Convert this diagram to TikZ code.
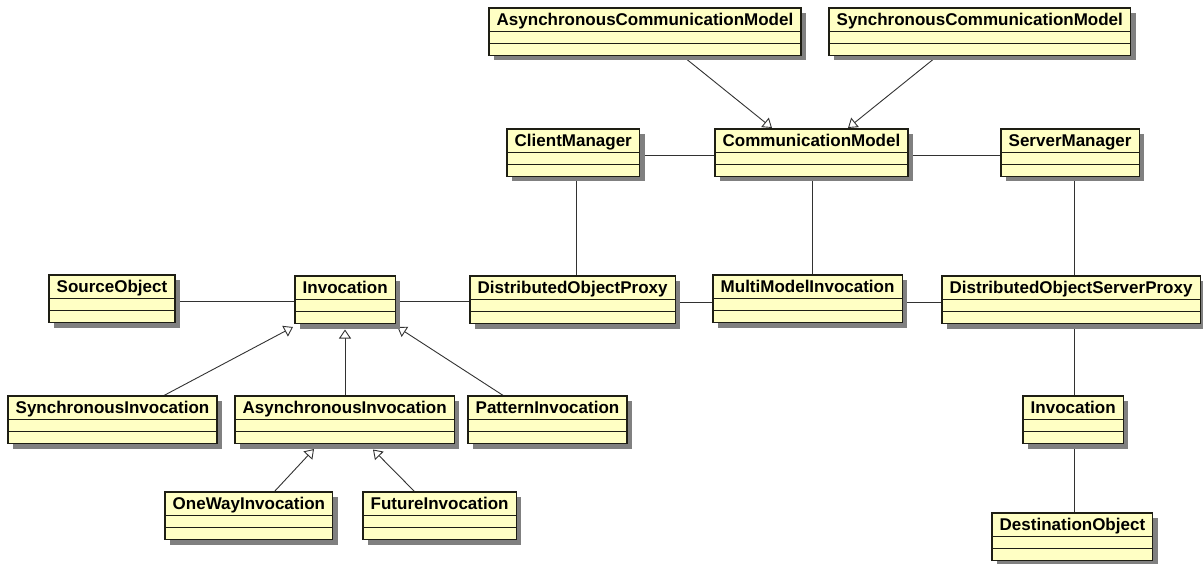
\documentclass[tikz,border=0pt]{standalone}
\usepackage{fontspec}
\setmainfont{Liberation Sans}
\usetikzlibrary{arrows.meta,shadows,calc,fit}
\pgfdeclarelayer{bg}
\pgfdeclarelayer{boxl}
\pgfsetlayers{bg,boxl,main}
\definecolor{clsfill}{RGB}{255,255,196}
\definecolor{clsborder}{RGB}{30,30,20}
\definecolor{shadowc}{RGB}{128,128,128}
\definecolor{linec}{RGB}{50,50,50}
\newcommand\clsfont{\fontsize{17}{20}\selectfont\bfseries}
\tikzset{
  clsbox/.style={draw=clsborder, line width=1.2pt, fill=clsfill, inner sep=0pt, outer sep=0pt,
    drop shadow={shadow xshift=5pt, shadow yshift=-5pt, fill=shadowc, opacity=1}},
  clstext/.style={inner sep=0pt, font=\clsfont, text=black},
  cline/.style={draw=clsborder, line width=1.2pt},
  assoc/.style={draw=linec, line width=1pt},
  gen/.style={draw=linec, line width=0.9pt, -{Triangle[length=9pt, width=12pt, fill=white]}},
}
\newcommand\umlcls[4]{%
  \coordinate (#1-nw) at (#2,#3);
  \node[clstext, anchor=base west] (#1-t) at ($(#1-nw)+(7.5,17.7)$) {#4};
  \coordinate (#1-se) at ($(#1-t.base east)+(7.5,29.8)$);
  \begin{pgfonlayer}{boxl}
  \node[clsbox, fit=(#1-nw)(#1-se)] (#1) {};
  \end{pgfonlayer}
  \draw[cline] ([yshift=-23.5pt]#1.north west) -- ([yshift=-23.5pt]#1.north east);
  \draw[cline] ([yshift=-35.5pt]#1.north west) -- ([yshift=-35.5pt]#1.north east);
}
\begin{document}
\begin{tikzpicture}[x=1pt,y=-1pt]
\useasboundingbox (0,0) rectangle (1203,564);
% classes
\umlcls{acm}{489}{8}{AsynchronousCommunicationModel}
\umlcls{scm}{829}{8}{SynchronousCommunicationModel}
\umlcls{cm}{507}{129}{ClientManager}
\umlcls{comm}{715}{129}{CommunicationModel}
\umlcls{sm}{1001}{129}{ServerManager}
\umlcls{so}{49}{275}{SourceObject}
\umlcls{inv}{295}{276}{Invocation}
\umlcls{dop}{470}{276}{DistributedObjectProxy}
\umlcls{mmi}{713}{275}{MultiModelInvocation}
\umlcls{dosp}{942}{276}{DistributedObjectServerProxy}
\umlcls{sync}{8}{396}{SynchronousInvocation}
\umlcls{async}{235}{396}{AsynchronousInvocation}
\umlcls{pat}{468}{396}{PatternInvocation}
\umlcls{one}{165}{492}{OneWayInvocation}
\umlcls{fut}{363}{492}{FutureInvocation}
\umlcls{inv2}{1023}{396}{Invocation}
\umlcls{dest}{992}{513}{DestinationObject}
% connectors
\begin{pgfonlayer}{bg}
% generalizations
\draw[gen] ([xshift=193pt]acm.south west) -- ([xshift=57pt,yshift=1pt]comm.north west);
\draw[gen] ([xshift=109pt]scm.south west) -- ([xshift=133pt,yshift=1pt]comm.north west);
\draw[gen] ([xshift=155pt]sync.north west) -- ([xshift=-2pt,yshift=-3.5pt]inv.south west);
\draw[gen] ([xshift=110pt]async.north west) -- ([xshift=50pt,yshift=-6pt]inv.south west);
\draw[gen] ([xshift=36pt]pat.north west) -- ([xshift=2pt,yshift=-3.5pt]inv.south east);
\draw[gen] ([xshift=109pt]one.north west) -- ([xshift=79pt,yshift=-5.5pt]async.south west);
\draw[gen] ([xshift=52pt]fut.north west) -- ([xshift=138pt,yshift=-6pt]async.south west);
% associations
\path ([yshift=-27pt]cm.north east) coordinate (cm-r);
\draw[assoc] (cm-r) -- (cm-r -| comm.west);
\path ([yshift=-27pt]comm.north east) coordinate (comm-r);
\draw[assoc] (comm-r) -- (comm-r -| sm.west);
\path ([xshift=69pt]cm.south west) coordinate (cm-b);
\draw[assoc] (cm-b) -- (cm-b |- dop.north);
\path ([xshift=97pt]comm.south west) coordinate (comm-b);
\draw[assoc] (comm-b) -- (comm-b |- mmi.north);
\path ([xshift=73pt]sm.south west) coordinate (sm-b);
\draw[assoc] (sm-b) -- (sm-b |- dosp.north);
\path ([yshift=-27pt]so.north east) coordinate (so-r);
\draw[assoc] (so-r) -- (so-r -| inv.west);
\path ([yshift=-26pt]inv.north east) coordinate (inv-r);
\draw[assoc] (inv-r) -- (inv-r -| dop.west);
\path ([yshift=-27pt]dop.north east) coordinate (dop-r);
\draw[assoc] (dop-r) -- (dop-r -| mmi.west);
\path ([yshift=-28pt]mmi.north east) coordinate (mmi-r);
\draw[assoc] (mmi-r) -- (mmi-r -| dosp.west);
\path ([xshift=132pt]dosp.south west) coordinate (dosp-b);
\draw[assoc] (dosp-b) -- (dosp-b |- inv2.north);
\path ([xshift=51pt]inv2.south west) coordinate (inv2-b);
\draw[assoc] (inv2-b) -- (inv2-b |- dest.north);
\end{pgfonlayer}
\end{tikzpicture}
\end{document}
